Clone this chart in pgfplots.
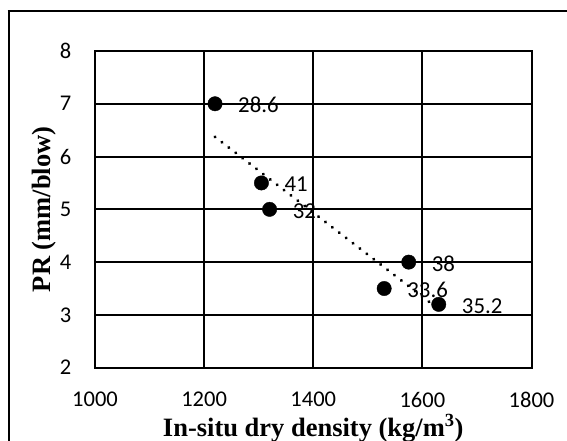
\documentclass[border=0pt]{standalone}
\usepackage{pgfplots}
\pgfplotsset{compat=1.18}
\usepackage{pgfplotstable}
\usepackage{fontspec}
\setmainfont{Carlito}
\newfontfamily\timesf{Liberation Serif}
\pgfplotstableread{
x y lab
1220 7.0 28.6
1305 5.5 41
1320 5.0 32
1575 4.0 38
1530 3.5 33.6
1630 3.2 35.2
}\pointdata
\begin{document}
\begin{tikzpicture}[x=1pt,y=1pt]
\useasboundingbox (0,0) rectangle (567,441);
\draw[line width=2pt] (8.7,0) -- (8.7,430);
\draw[line width=1.3pt] (7.7,430) -- (567,430);
\begin{axis}[
  at={(95pt,73.3pt)}, anchor=south west,
  scale only axis, width=436.5pt, height=316.7pt,
  xmin=1000, xmax=1800, ymin=2, ymax=8,
  xtick={1000,1200,1400,1600,1800}, ytick={2,3,4,5,6,7,8},
  grid=major, major grid style={black, line width=2pt},
  axis line style={black, line width=2pt},
  major tick length=0pt,
  /pgf/number format/assume math mode=true,
  /pgf/number format/1000 sep={},
  tick label style={font=\fontsize{22.5}{27}\selectfont},
  xticklabel style={anchor=north, inner sep=0pt, yshift=-24pt},
  yticklabel style={anchor=east, inner sep=0pt, xshift=-23.5pt},
  xlabel={In-situ dry density (kg/m\textsuperscript{3})},
  ylabel={PR (mm/blow)},
  every axis x label/.style={at={(axis description cs:0.5,-0.2157)}, anchor=base, font=\timesf\bfseries\fontsize{26.5}{30}\selectfont},
  every axis y label/.style={at={(axis description cs:-0.1019,0.5)}, rotate=90, anchor=base, font=\timesf\bfseries\fontsize{26.5}{30}\selectfont},
  clip=false,
]
\addplot[only marks, mark=*, mark size=7.2pt, black,
  point meta=explicit symbolic,
  nodes near coords,
  nodes near coords align={horizontal},
  every node near coord/.append style={anchor=west, inner sep=0pt, xshift=23pt, yshift=-1.5pt, text=black, font=\fontsize{22.8}{27}\selectfont}]
  table[x=x, y=y, meta=lab] {\pointdata};
\addplot[black, line width=3.4pt, line cap=round, dash pattern=on 0.01pt off 8.7pt, no marks]
  coordinates {(1220,6.372) (1630,3.107)};
\end{axis}
\end{tikzpicture}
\end{document}
